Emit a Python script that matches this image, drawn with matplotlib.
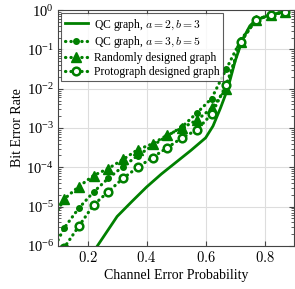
import numpy as np
import matplotlib
matplotlib.use("Agg")
import matplotlib.pyplot as plt
from matplotlib.ticker import LogLocator, NullFormatter

plt.rcParams["font.family"] = ["Liberation Serif", "DejaVu Serif"]
plt.rcParams["mathtext.fontset"] = "cm"

GREEN = "#008000"

# channel error probability
x_qc23 = [0.233, 0.30, 0.35, 0.40, 0.45, 0.50, 0.55, 0.60, 0.625, 0.65, 0.675,
          0.70, 0.725, 0.75, 0.77, 0.82, 0.87]
logy_qc23 = [-6.0, -5.25, -4.87, -4.5, -4.17, -3.87, -3.57, -3.25, -2.95, -2.5, -2.0,
             -1.3, -0.75, -0.4, -0.25, -0.12, -0.04]

x_pts = [0.10, 0.12, 0.17, 0.22, 0.27, 0.32, 0.37, 0.42, 0.47, 0.52, 0.57,
         0.62, 0.67, 0.72, 0.77, 0.82, 0.87]
logy_qc35 = [-5.85, -5.55, -5.04, -4.63, -4.28, -3.98, -3.7, -3.45, -3.2, -2.97, -2.62,
             -2.25, -1.5, -0.75, -0.25, -0.12, -0.04]
logy_rand = [-5.08, -4.81, -4.49, -4.21, -4.03, -3.8, -3.55, -3.4, -3.18, -3.0, -2.8,
             -2.5, -2.0, -0.8, -0.25, -0.12, -0.04]
logy_proto = [-6.6, -6.05, -5.5, -4.96, -4.62, -4.28, -4.0, -3.75, -3.5, -3.25, -3.05,
              -2.65, -1.9, -0.8, -0.25, -0.12, -0.04]

labels = [r"QC graph, $a=2, b=3$", r"QC graph, $a=3, b=5$",
          "Randomly designed graph", "Protograph designed graph"]

fig = plt.figure(figsize=(2.95, 2.89), dpi=100)
ax = fig.add_axes([0.197, 0.149, 0.800, 0.816])

dots = (0, (0.1, 1.6))
every = list(range(1, len(x_pts)))
ax.plot(x_qc23, 10.0 ** np.array(logy_qc23), color=GREEN, lw=2.0, label=labels[0])
ax.plot(x_pts, 10.0 ** np.array(logy_qc35), color=GREEN, lw=2.3, ls=dots,
        dash_capstyle="round", marker="o", ms=4, markevery=every, label=labels[1])
ax.plot(x_pts, 10.0 ** np.array(logy_rand), color=GREEN, lw=2.3, ls=dots,
        dash_capstyle="round", marker="^", ms=6.5, markevery=every, label=labels[2])
ax.plot(x_pts, 10.0 ** np.array(logy_proto), color=GREEN, lw=2.3, ls=dots,
        dash_capstyle="round", marker="o", ms=5.5, mfc="white", mew=1.8,
        markevery=every, label=labels[3])

ax.set_yscale("log")
ax.set_xlim(0.1, 0.9)
ax.set_ylim(1e-6, 1)
ax.set_xticks([0.2, 0.4, 0.6, 0.8])
ax.set_xticklabels(["$0.2$", "$0.4$", "$0.6$", "$0.8$"])
ax.yaxis.set_major_locator(LogLocator(base=10, numticks=10))
ax.yaxis.set_minor_locator(LogLocator(base=10, subs=np.arange(2, 10), numticks=10))
ax.yaxis.set_minor_formatter(NullFormatter())
ax.tick_params(which="both", direction="in", top=True, right=True, labelsize=10.5,
               color="#444444", pad=3)
ax.tick_params(which="major", length=3.5)
ax.tick_params(which="minor", length=2)
ax.grid(True, which="major", color="#dddddd", lw=0.8)
for s in ax.spines.values():
    s.set_color("#444444")

ax.set_xlabel("Channel Error Probability", fontsize=10, labelpad=3)
ax.set_ylabel("Bit Error Rate", fontsize=10, labelpad=2)

leg = ax.legend(loc="upper left", fontsize=8.4, handlelength=2.0, frameon=True,
                fancybox=False, edgecolor="#333333", borderpad=0.3, labelspacing=0.15,
                handletextpad=0.5, borderaxespad=0.25)
leg.get_frame().set_linewidth(0.8)

fig.savefig("out.png", dpi=100)
